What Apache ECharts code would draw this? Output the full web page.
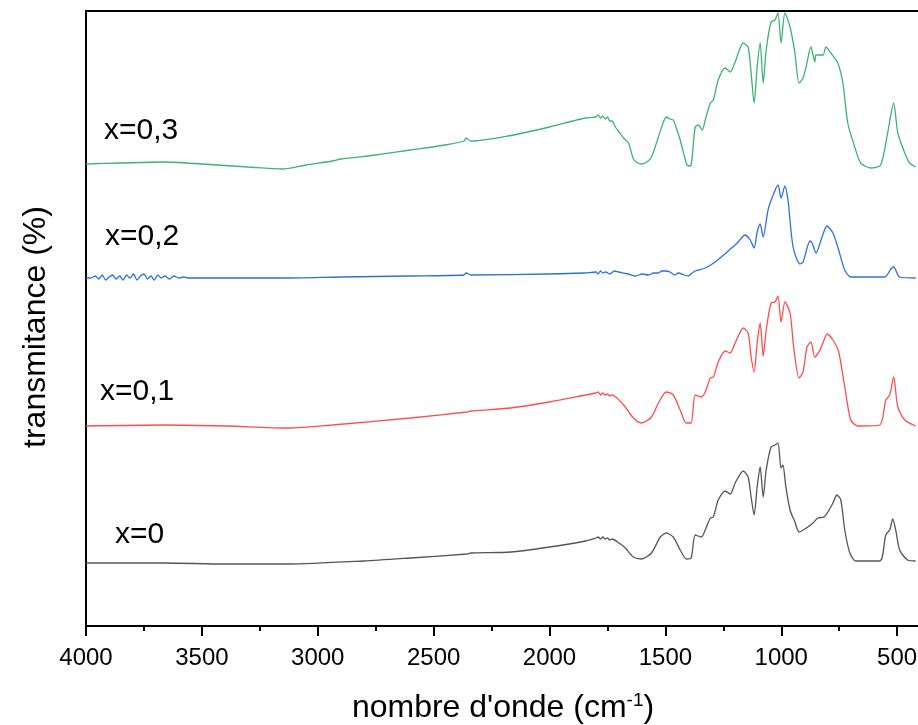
<!DOCTYPE html>
<html>
<head>
<meta charset="utf-8">
<script src="https://cdn.jsdelivr.net/npm/echarts@6/dist/echarts.min.js"></script>
<style>
  html, body { margin: 0; padding: 0; background: #fff; overflow: hidden; }
</style>
</head>
<body>
<div id="main" style="width: 1014px; height: 725px"></div>
<script>
// nombre d'onde (cm-1) et transmittance (unités arbitraires, courbes décalées)
const wnG = [4000,3850,3664,3500,3300,3152,3050,2937,2900,2750,2600,2450,2369,2360,2340,2180,2000,1900,1844,1800,1790,1780,1770,1760,1750,1740,1730,1716,1700,1680,1659,1638,1620,1603,1580,1560,1530,1510,1496,1480,1466,1450,1436,1410,1400,1389,1380,1371,1358,1341,1328,1306,1293,1272,1242,1220,1199,1164,1143,1130,1117,1104,1091,1078,1065,1044,1027,1014,1001,984,962,941,923,906,893,872,855,850,820,807,786,756,734,713,683,657,614,571,541,515,497,467,446,420];
const tG = [462,463,464,462,459,457,461,465,467,471,476,481,485,488,485,490,499,505,508,509,511,508,510,507,509,505,505,499,494,488,483,467,463,462,464,469,489,503,509,507,506,496,486,463,460,461,480,499,501,496,506,523,526,546,558,554,564,583,579,553,523,559,583,543,576,604,606,613,583,613,599,573,543,548,559,579,564,571,571,579,573,563,543,503,479,463,458,461,493,523,493,473,463,459];

const wnB = [4000,3980,3960,3945,3930,3915,3900,3885,3870,3855,3840,3825,3810,3795,3780,3765,3750,3735,3720,3705,3690,3675,3660,3640,3620,3600,3580,3560,3400,3152,2900,2600,2369,2360,2340,2000,1850,1800,1790,1780,1770,1758,1740,1720,1702,1660,1629,1600,1573,1550,1530,1515,1500,1480,1460,1444,1420,1401,1390,1371,1328,1285,1229,1190,1156,1134,1117,1104,1091,1078,1057,1035,1014,1001,984,971,949,919,906,876,867,850,824,803,777,756,726,700,670,553,527,515,489,420];
const tB = [348,348,350,347,351,346,349,351,347,350,346,351,348,352,346,350,352,347,350,346,351,348,350,347,350,348,349,348,348,348,349,350,351,353,351,352,353,354,352,355,353,354,352,355,354,352,350,352,351,353,353,355,355,354,351,353,351,350,352,355,358,364,375,383,391,386,378,394,402,389,416,431,441,428,440,426,379,362,364,385,383,373,389,400,393,379,356,349,349,349,357,359,349,348];

const wnR = [4000,3664,3400,3127,2937,2600,2356,2340,2167,2000,1844,1800,1790,1780,1770,1760,1750,1740,1730,1700,1673,1638,1603,1560,1530,1496,1466,1436,1410,1389,1371,1345,1328,1306,1293,1272,1242,1220,1199,1164,1143,1130,1117,1104,1091,1078,1065,1044,1027,1014,1001,984,962,945,923,906,889,872,855,833,812,803,777,752,726,700,670,575,549,532,515,497,467,420];
const tR = [200,201,200,198,201,208,214,215,218,224,231,233,234,231,233,231,232,230,231,226,219,208,203,209,223,234,231,216,203,203,231,229,234,248,249,264,275,273,283,298,293,269,254,283,303,270,296,323,324,330,304,324,313,276,248,254,279,284,269,276,288,292,286,274,239,206,200,201,226,231,249,219,206,200];

const wnK = [4000,3664,3400,3127,2800,2600,2356,2340,2167,2000,1844,1800,1790,1780,1770,1760,1750,1740,1730,1700,1673,1638,1603,1560,1522,1496,1466,1436,1410,1389,1371,1345,1328,1306,1293,1272,1242,1220,1199,1164,1143,1130,1117,1104,1091,1078,1065,1044,1027,1014,1001,993,980,962,941,923,898,863,842,816,799,777,760,743,726,704,678,575,549,532,519,506,489,455,420];
const tK = [63,63,62,62,65,68,72,73,74,79,85,88,89,87,89,87,88,86,87,83,78,69,67,73,89,93,89,76,67,68,91,89,96,108,109,126,135,132,143,155,149,129,111,139,159,129,156,179,181,183,158,161,139,116,104,94,97,103,108,109,114,123,131,126,96,73,65,65,91,96,107,96,76,66,65];

const xTicks = [4000, 3500, 3000, 2500, 2000, 1500, 1000, 500];
const names = ['x=0', 'x=0,1', 'x=0,2', 'x=0,3'];
const colors = ['#555555', '#ff4d4d', '#2f6fdc', '#3cb371'];

const pairs = (wn, t) => wn.map((w, i) => [w, t[i]]);
const curves = [pairs(wnK, tK), pairs(wnR, tR), pairs(wnB, tB), pairs(wnG, tG)];

var chartDom = document.getElementById('main');
var myChart = echarts.init(chartDom);
var font = 'Liberation Sans, Arial, sans-serif';

var option = {
    animation: false,
    backgroundColor: '#fff',
    grid: { left: 86, right: 1, top: 11, bottom: 99, outerBoundsMode: 'none' },
    xAxis: [
        {
            type: 'value',
            min: 0,
            max: 4000,
            interval: 500,
            inverse: true,
            position: 'bottom',
            axisLine: { show: true, onZero: false, lineStyle: { color: '#000', width: 2 } },
            axisTick: { show: true, length: 10, lineStyle: { color: '#000', width: 2 } },
            minorTick: { show: true, splitNumber: 2, length: 5, lineStyle: { color: '#000', width: 2 } },
            axisLabel: {
                fontSize: 24, color: '#000', fontFamily: font, margin: 20,
                formatter: v => (xTicks.indexOf(v) >= 0 ? String(v) : '')
            },
            splitLine: { show: false }
        },
        {
            type: 'value',
            min: 0,
            max: 4000,
            inverse: true,
            position: 'top',
            axisLine: { show: true, onZero: false, lineStyle: { color: '#000', width: 2 } },
            axisTick: { show: false },
            axisLabel: { show: false },
            splitLine: { show: false }
        }
    ],
    yAxis: {
        type: 'value',
        min: 0,
        max: 615,
        axisLine: { show: true, onZero: false, lineStyle: { color: '#000', width: 2 } },
        axisTick: { show: false },
        axisLabel: { show: false },
        splitLine: { show: false }
    },
    series: curves.map((d, i) => ({
        name: names[i],
        type: 'line',
        xAxisIndex: 0,
        data: d,
        showSymbol: false,
        smooth: 0.25,
        lineStyle: { color: colors[i], width: 1.3 }
    })),
    graphic: [
        { type: 'text', left: 104, top: 116, style: { text: 'x=0,3', font: '30px ' + font, fill: '#000' } },
        { type: 'text', left: 105, top: 222, style: { text: 'x=0,2', font: '30px ' + font, fill: '#000' } },
        { type: 'text', left: 100, top: 377, style: { text: 'x=0,1', font: '30px ' + font, fill: '#000' } },
        { type: 'text', left: 115, top: 520, style: { text: 'x=0', font: '30px ' + font, fill: '#000' } },
        {
            type: 'text', x: 36, y: 327, rotation: Math.PI / 2,
            style: { text: 'transmitance (%)', font: '32px ' + font, fill: '#000', align: 'center', verticalAlign: 'middle' }
        },
        {
            type: 'text', x: 503, y: 708,
            style: {
                text: "{a|nombre d'onde (cm}{s|-1}{a|)}",
                align: 'center', verticalAlign: 'middle',
                rich: {
                    a: { fontSize: 32, fontFamily: font, fill: '#000', color: '#000' },
                    s: { fontSize: 19, fontFamily: font, fill: '#000', color: '#000', padding: [0, 0, 14, 0] }
                }
            }
        }
    ]
};

option && myChart.setOption(option);
</script>
</body>
</html>
